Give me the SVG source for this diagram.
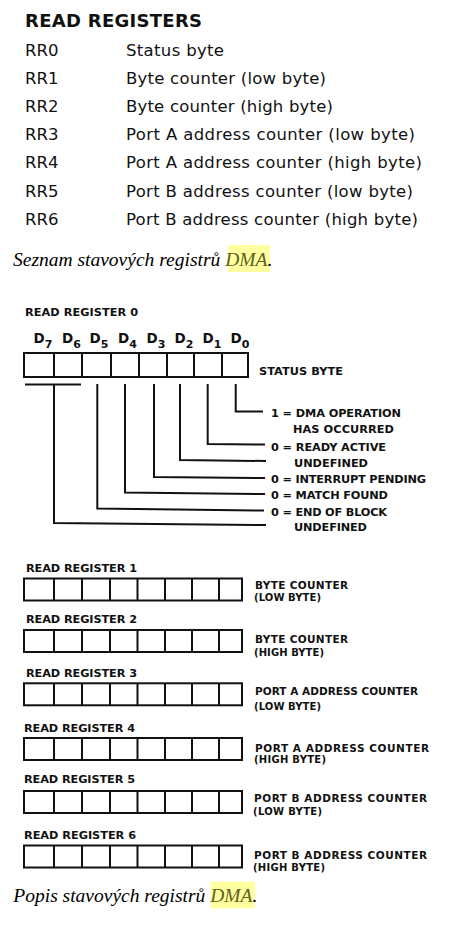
<svg xmlns="http://www.w3.org/2000/svg" xmlns:xlink="http://www.w3.org/1999/xlink" width="464" height="931" viewBox="0 0 464 931">
<style>
.t{font-family:"DejaVu Sans","Liberation Sans",sans-serif;fill:#111}
.b{font-weight:bold}
.lbl{font-family:"DejaVu Sans","Liberation Sans",sans-serif;font-weight:bold;font-size:11.3px;fill:#111}
.sm{font-family:"DejaVu Sans","Liberation Sans",sans-serif;font-weight:bold;font-size:10.5px;fill:#111}
.xs{font-family:"DejaVu Sans","Liberation Sans",sans-serif;font-weight:bold;font-size:10px;fill:#111}
.cap{font-family:"Liberation Serif","Times New Roman",serif;font-style:italic;font-size:19.5px;fill:#000}
.hl{fill:#ffffa0}
.dma{fill:#5f5f1f}
.ln{fill:none;stroke:#111;stroke-width:2}
.sub{font-size:11px}
</style>
<defs>
<g id="reg8">
<rect class="ln" x="24" y="0" width="218" height="22"/>
<path class="ln" d="M54 0V22M82 0V22M110 0V22M137.5 0V22M165 0V22M192 0V22M219 0V22"/>
</g>
</defs>
<rect width="464" height="931" fill="#fff"/>

<g id="read-registers-table">
<text class="t b" x="25" y="27" font-size="18" textLength="177">READ REGISTERS</text>
<g class="t" font-size="16.5">
<text x="25" y="56">RR0</text><text x="126" y="56" textLength="98">Status byte</text>
<text x="25" y="84">RR1</text><text x="126" y="84" textLength="200">Byte counter (low byte)</text>
<text x="25" y="112">RR2</text><text x="126" y="112" textLength="207">Byte counter (high byte)</text>
<text x="25" y="140">RR3</text><text x="126" y="140" textLength="289">Port A address counter (low byte)</text>
<text x="25" y="168">RR4</text><text x="126" y="168" textLength="296">Port A address counter (high byte)</text>
<text x="25" y="196.5">RR5</text><text x="126" y="196.5" textLength="287">Port B address counter (low byte)</text>
<text x="25" y="225">RR6</text><text x="126" y="225" textLength="292">Port B address counter (high byte)</text>
</g>
</g>

<g id="caption-1">
<rect class="hl" x="228" y="245" width="42" height="27"/>
<text class="cap" x="13" y="266">Seznam stavových registrů <tspan class="dma">DMA</tspan>.</text>
</g>

<g id="read-register-0">
<text class="lbl" x="25" y="316" textLength="113">READ REGISTER 0</text>
<g class="t b" font-size="13.5">
<text x="33.5" y="343">D<tspan class="sub" dy="4.5">7</tspan></text>
<text x="62" y="343">D<tspan class="sub" dy="4.5">6</tspan></text>
<text x="89.5" y="343">D<tspan class="sub" dy="4.5">5</tspan></text>
<text x="118" y="343">D<tspan class="sub" dy="4.5">4</tspan></text>
<text x="146.5" y="343">D<tspan class="sub" dy="4.5">3</tspan></text>
<text x="174.5" y="343">D<tspan class="sub" dy="4.5">2</tspan></text>
<text x="202.5" y="343">D<tspan class="sub" dy="4.5">1</tspan></text>
<text x="230.5" y="343">D<tspan class="sub" dy="4.5">0</tspan></text>
</g>
<rect class="ln" x="24" y="353" width="224" height="24"/>
<path class="ln" d="M54 353V377M82 353V377M111 353V377M139 353V377M167 353V377M194 353V377M222 353V377"/>
<text class="lbl" x="259" y="375" textLength="84">STATUS BYTE</text>
</g>

<g id="bit-labels">
<text class="lbl" x="271" y="416.7" textLength="130">1 = DMA OPERATION</text>
<text class="lbl" x="293" y="433.3" textLength="101">HAS OCCURRED</text>
<text class="lbl" x="271" y="451" textLength="115">0 = READY ACTIVE</text>
<text class="lbl" x="294" y="466.7" textLength="74">UNDEFINED</text>
<text class="lbl" x="271" y="483.3" textLength="155">0 = INTERRUPT PENDING</text>
<text class="lbl" x="271" y="499" textLength="117">0 = MATCH FOUND</text>
<text class="lbl" x="271" y="515.7" textLength="116">0 = END OF BLOCK</text>
<text class="lbl" x="294" y="531" textLength="73">UNDEFINED</text>
</g>

<g id="connectors">
<path class="ln" d="M25 384.5H81"/>
<path class="ln" d="M54 384.5V523L266 525"/>
<path class="ln" d="M97.3 384V508.5L264 510.5"/>
<path class="ln" d="M125 384V492.5L265 494"/>
<path class="ln" d="M154 384V477L265 478"/>
<path class="ln" d="M180 384V460L266 461"/>
<path class="ln" d="M207.7 384V444L265 444.5"/>
<path class="ln" d="M235.7 384V411.5H263"/>
</g>

<g id="read-register-1">
<text class="lbl" x="26" y="571.7" textLength="111">READ REGISTER 1</text>
<use xlink:href="#reg8" href="#reg8" y="578.5"/>
<text class="sm" x="255" y="588.5" textLength="93">BYTE COUNTER</text>
<text class="xs" x="254" y="600.5" textLength="67">(LOW BYTE)</text>
</g>

<g id="read-register-2">
<text class="lbl" x="26" y="623.3" textLength="111">READ REGISTER 2</text>
<use xlink:href="#reg8" href="#reg8" y="630"/>
<text class="sm" x="255" y="643.3" textLength="93">BYTE COUNTER</text>
<text class="xs" x="254" y="655.7" textLength="70">(HIGH BYTE)</text>
</g>

<g id="read-register-3">
<text class="lbl" x="26" y="676.7" textLength="111">READ REGISTER 3</text>
<use xlink:href="#reg8" href="#reg8" y="683.3"/>
<text class="sm" x="255" y="695" textLength="163">PORT A ADDRESS COUNTER</text>
<text class="xs" x="254" y="710" textLength="67">(LOW BYTE)</text>
</g>

<g id="read-register-4">
<text class="lbl" x="24" y="731.7" textLength="111">READ REGISTER 4</text>
<use xlink:href="#reg8" href="#reg8" y="738"/>
<text class="sm" x="255" y="751.7" textLength="174">PORT A ADDRESS COUNTER</text>
<text class="xs" x="254" y="763.3" textLength="72">(HIGH BYTE)</text>
</g>

<g id="read-register-5">
<text class="lbl" x="24" y="783.3" textLength="111">READ REGISTER 5</text>
<use xlink:href="#reg8" href="#reg8" y="791"/>
<text class="sm" x="254" y="802.3" textLength="173">PORT B ADDRESS COUNTER</text>
<text class="xs" x="253" y="815" textLength="69">(LOW BYTE)</text>
</g>

<g id="read-register-6">
<text class="lbl" x="24" y="839" textLength="112">READ REGISTER 6</text>
<use xlink:href="#reg8" href="#reg8" y="845.5"/>
<text class="sm" x="254" y="859" textLength="173">PORT B ADDRESS COUNTER</text>
<text class="xs" x="253" y="870.7" textLength="72">(HIGH BYTE)</text>
</g>

<g id="caption-2">
<rect class="hl" x="210.7" y="881.7" width="44.3" height="26.6"/>
<text class="cap" x="13.3" y="901.7">Popis stavových registrů <tspan class="dma">DMA</tspan>.</text>
</g>
</svg>
